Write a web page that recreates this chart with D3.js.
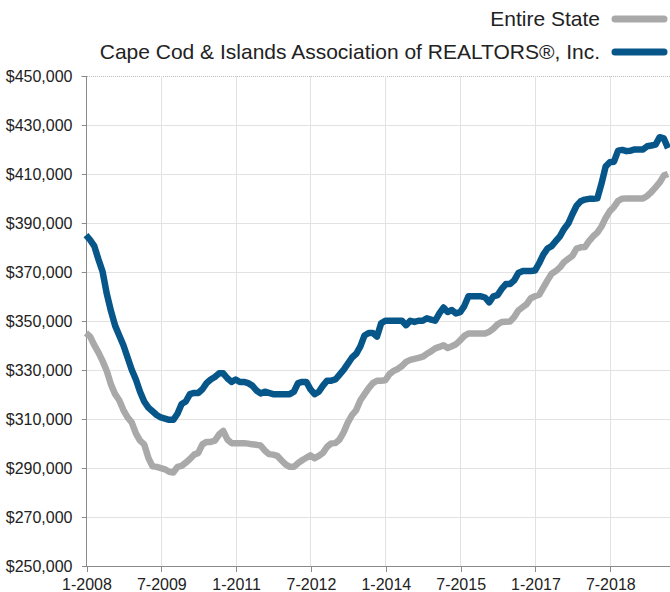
<!DOCTYPE html>
<meta charset="utf-8">
<style>
body { margin: 0; background: #fff; }
svg { font-family: "Liberation Sans", Arial, sans-serif; }
.grid line { stroke: #e2e2e2; stroke-width: 1; shape-rendering: crispEdges; }
.axis path, .axis line { stroke: #8a8a8a; shape-rendering: crispEdges; }
.axis text { fill: #222; font-size: 16px; }
.legend text { fill: #222; font-size: 21px; }
.series { fill: none; stroke-width: 6.5; stroke-linejoin: round; stroke-linecap: butt; }
</style>
<body>
<svg id="chart" width="670" height="592"></svg>

<script src="https://d3js.org/d3.v7.min.js"></script>
<script>

// months run 1-2008 .. 9-2019
var startYear = 2008;
var months = d3.range(141).map(function(i) {
  return (i % 12 + 1) + "-" + (startYear + Math.floor(i / 12));
});

var xTickLabels = ["1-2008", "7-2009", "1-2011", "7-2012", "1-2014", "7-2015", "1-2017", "7-2018"];
var yTickValues = [250000, 270000, 290000, 310000, 330000, 350000, 370000, 390000, 410000, 430000, 450000];

var seriesNames = ["Entire State", "Cape Cod & Islands Association of REALTORS®, Inc."];
var seriesColors = ["#a9a9a9", "#07568a"];

// median sales price, thousands of dollars
var entireState = [
  345, 343.5, 340, 337, 333.5, 329.5, 324, 320, 317.5, 313.5, 310.5, 308.5,
  304, 301, 299.5, 294, 290.5, 290.3, 289.8, 289.3, 288.3, 288, 290.3, 290.7,
  292, 293.5, 295.3, 296, 299.5, 300.5, 300.5, 301, 303.5, 305, 301.5, 300,
  300, 300, 300, 299.8, 299.5, 299.3, 299, 297, 295.5, 295.3, 294.8, 293,
  291.3, 290.3, 290.3, 291.8, 293, 294, 295, 293.8, 294.8, 296, 298.5, 299.9,
  300, 301.5, 304.5, 308.5, 311.5, 313.5, 317.5, 320, 322.5, 324.5, 325.5, 325.5,
  325.7, 328.2, 329.5, 330.3, 331.5, 333.2, 334, 334.4, 334.8, 335.3, 336.5, 337.5,
  338.7, 339.3, 340, 338.9, 339.6, 340.4, 342, 343.8, 344.8, 344.8, 344.8, 344.8,
  344.8, 345.5, 346.8, 348.5, 349.5, 349.6, 349.7, 351.5, 354.2, 355.5, 356.8, 359.2,
  360, 360.6, 363.5, 366.5, 369.2, 370.3, 371.8, 374, 375.3, 376.5, 379.5, 380,
  380.1, 382.5, 384.5, 386, 388.5, 392, 394.8, 396.5, 399, 399.9, 400, 400,
  400, 400, 400, 401, 402.6, 404.5, 406.5, 409.3, 410
];

var capeCod = [
  385, 383, 380.5, 375, 370, 361, 354, 348, 344, 340, 335, 330,
  326, 321, 317, 314.5, 313, 311.5, 310.5, 310, 309.5, 309.5, 312, 316,
  317, 320, 320.5, 320.5, 322, 324.5, 326, 327, 328.5, 328.5, 326.5, 325,
  326, 325, 325, 324.5, 323.5, 321.5, 320.3, 321, 320.5, 320, 320, 320,
  320, 320, 321, 324.5, 325, 325, 322, 320, 321, 323.5, 325.5, 325.5,
  326, 328, 330, 332.5, 335, 336.5, 339.5, 344, 345, 345, 343.5, 349,
  350, 350, 350, 350, 350, 348.2, 350, 349.5, 350, 350, 351, 350.5,
  350, 353, 355.4, 353.6, 354.4, 353, 353.5, 356, 360, 360, 360, 360,
  359.5, 357.5, 360, 360.5, 363, 365, 365, 366.5, 369.5, 370.3, 370.3, 370.3,
  370.5, 373.5, 377, 379.5, 380.5, 382.5, 384.5, 387.5, 389.7, 393.5, 397, 398.8,
  399.5, 399.8, 399.8, 400, 406, 413, 414.8, 415, 419.5, 419.8, 419.3, 419.5,
  420, 420, 420, 421.3, 421.6, 422, 425, 424.5, 420.5
];

var svg = d3.select("#chart");
var plotLeft = 86, plotRight = 668, plotTop = 76, plotBottom = 565.5;

var x = d3.scalePoint()
    .domain(months)
    .range([plotLeft, plotRight]);

var y = d3.scaleLinear()
    .domain([250000, 450000])
    .range([plotBottom, plotTop]);

// horizontal grid
svg.append("g")
    .attr("class", "grid")
    .selectAll("line")
    .data(yTickValues.slice(1))
  .enter().append("line")
    .attr("x1", plotLeft - 5)
    .attr("x2", 670)
    .attr("y1", function(d) { return Math.round(y(d)) + 0.5; })
    .attr("y2", function(d) { return Math.round(y(d)) + 0.5; })
    .style("stroke", function(d) { return d === 450000 ? "#bdbdbd" : null; })
    .style("stroke-dasharray", function(d) { return d === 450000 ? "1,1" : null; });

// vertical grid
svg.append("g")
    .attr("class", "grid")
    .selectAll("line")
    .data(xTickLabels.slice(1))
  .enter().append("line")
    .attr("x1", function(d) { return Math.round(x(d)) + 0.5; })
    .attr("x2", function(d) { return Math.round(x(d)) + 0.5; })
    .attr("y1", plotTop)
    .attr("y2", plotBottom);

var yAxis = d3.axisLeft(y)
    .tickValues(yTickValues)
    .tickSize(5)
    .tickPadding(9)
    .tickFormat(function(d) { return "$" + d3.format(",")(d); });

svg.append("g")
    .attr("class", "axis y")
    .attr("transform", "translate(" + (plotLeft + 0.5) + ",0)")
    .call(yAxis)
    .call(function(g) { g.select(".domain").attr("d", "M0," + plotTop + "V" + plotBottom); })
    .selectAll("text").attr("dy", "0.36em");

var xAxis = d3.axisBottom(x)
    .tickValues(xTickLabels)
    .tickSize(5)
    .tickPadding(7);

svg.append("g")
    .attr("class", "axis x")
    .attr("transform", "translate(0.5," + (Math.round(plotBottom) + 0.5) + ")")
    .call(xAxis)
    .call(function(g) { g.select(".domain").attr("d", "M" + (plotLeft - 0.5) + ",0H670"); })
    .selectAll("text").attr("dy", "0.71em");

var line = d3.line()
    .x(function(d, i) { return x(months[i]); })
    .y(function(d) { return y(d * 1000); });

[entireState, capeCod].forEach(function(s, k) {
  svg.append("path")
      .datum(s)
      .attr("class", "series")
      .attr("stroke", seriesColors[k])
      .attr("d", line);
});

// legend
var legend = svg.append("g").attr("class", "legend");
var legendY = [19, 52];

seriesNames.forEach(function(name, k) {
  legend.append("text")
      .attr("x", 600)
      .attr("y", legendY[k])
      .attr("dy", "0.35em")
      .attr("text-anchor", "end")
      .text(name);
  legend.append("line")
      .attr("x1", 615)
      .attr("x2", 664)
      .attr("y1", legendY[k])
      .attr("y2", legendY[k])
      .attr("stroke", seriesColors[k])
      .attr("stroke-width", 7)
      .attr("stroke-linecap", "round");
});

</script>
</body>
